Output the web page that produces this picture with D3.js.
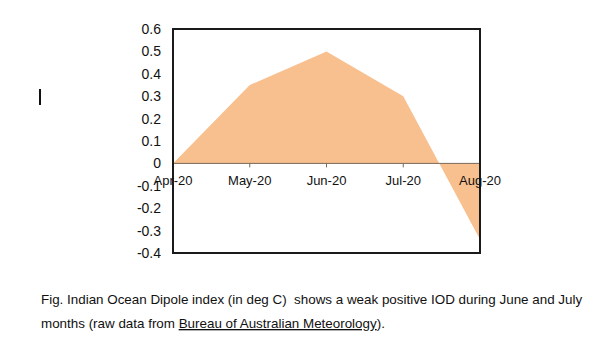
<!DOCTYPE html>
<html lang="en">
<head>
<meta charset="UTF-8">
<title>Indian Ocean Dipole index</title>
<style>
  body { margin: 0; background: #fff; }
  svg text { font-family: "Liberation Sans", Arial, sans-serif; fill: #111; white-space: pre; }
</style>
</head>
<body>
<div id="chart"></div>
<script src="https://d3js.org/d3.v7.min.js"></script>
<script>
const months = ["Apr-20", "May-20", "Jun-20", "Jul-20", "Aug-20"];
const iodValues = [0, 0.35, 0.5, 0.3, -0.34];
const yTicks = [0.6, 0.5, 0.4, 0.3, 0.2, 0.1, 0, -0.1, -0.2, -0.3, -0.4];
const captionLines = [
  "Fig. Indian Ocean Dipole index (in deg C)  shows a weak positive IOD during June and July",
  "months (raw data from ",
];
const linkText = "Bureau of Australian Meteorology";

const width = 616, height = 337;
const plot = { left: 173, right: 480, top: 29, bottom: 253 };

const svg = d3.select("#chart").append("svg")
  .attr("width", width)
  .attr("height", height);

const x = d3.scalePoint().domain(months).range([plot.left, plot.right]);
const y = d3.scaleLinear().domain([-0.4, 0.6]).range([plot.bottom, plot.top]);

// filled area between the series and zero
const area = d3.area()
  .x((d, i) => x(months[i]))
  .y0(y(0))
  .y1(d => y(d));

svg.append("path")
  .datum(iodValues)
  .attr("d", area)
  .attr("fill", "#f9c08f");

// zero line with category ticks
svg.append("line")
  .attr("x1", plot.left).attr("x2", plot.right)
  .attr("y1", y(0)).attr("y2", y(0))
  .attr("stroke", "#7a6a5a").attr("stroke-width", 1);

svg.selectAll("line.xtick")
  .data(months.slice(1, -1))
  .enter().append("line")
  .attr("class", "xtick")
  .attr("x1", d => x(d)).attr("x2", d => x(d))
  .attr("y1", y(0)).attr("y2", y(0) + 4)
  .attr("stroke", "#7a6a5a");

// plot frame
svg.append("rect")
  .attr("x", plot.left).attr("y", plot.top)
  .attr("width", plot.right - plot.left)
  .attr("height", plot.bottom - plot.top)
  .attr("fill", "none")
  .attr("stroke", "#1a1a1a")
  .attr("stroke-width", 2);

// y labels
svg.selectAll("text.ylab")
  .data(yTicks)
  .enter().append("text")
  .attr("class", "ylab")
  .attr("x", plot.left - 12)
  .attr("y", d => y(d))
  .attr("dy", "0.36em")
  .attr("text-anchor", "end")
  .style("font-size", "14px")
  .text(d => d3.format("")(d).replace("−", "-"));

// x labels
svg.selectAll("text.xlab")
  .data(months)
  .enter().append("text")
  .attr("class", "xlab")
  .attr("x", d => x(d))
  .attr("y", y(0) + 22)
  .attr("text-anchor", "middle")
  .style("font-size", "13px")
  .text(d => d);

// caption
svg.append("text")
  .attr("x", 41).attr("y", 304)
  .style("font-size", "13.4px")
  .text(captionLines[0]);

const line2 = svg.append("text")
  .attr("x", 41).attr("y", 328)
  .style("font-size", "13.4px");
line2.append("tspan").text(captionLines[1]);
line2.append("tspan").style("text-decoration", "underline").text(linkText);
line2.append("tspan").text(").");

// text cursor mark
svg.append("rect")
  .attr("x", 39).attr("y", 89)
  .attr("width", 2).attr("height", 16)
  .attr("fill", "#111");
</script>
</body>
</html>
